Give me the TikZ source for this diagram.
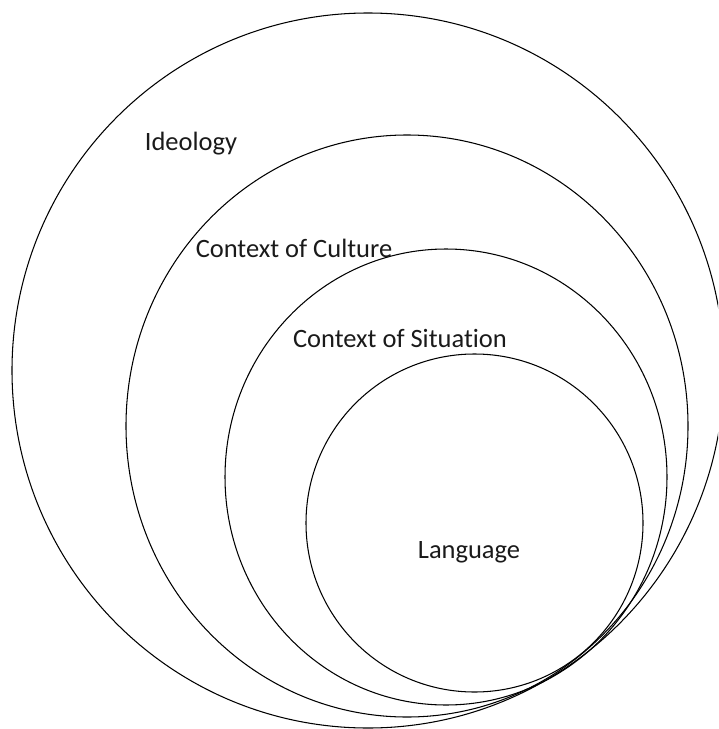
\documentclass[tikz,border=0pt]{standalone}
\usepackage{fontspec}
\setmainfont{Carlito}[Ligatures={NoCommon}]
\usepackage{tikz}
\usepackage{xcolor}

\begin{document}
\begin{tikzpicture}[x=0.03cm,y=-0.03cm,
  ring/.style={draw=black,line width=0.9pt},
  tag/.style={font=\fontsize{22.6}{27}\selectfont,inner sep=0pt}]
\useasboundingbox (0,0) rectangle (718,729);
\clip (0,0) rectangle (718,729);
\definecolor{inkgrey}{HTML}{1A1A1A}
  % nested rings, outermost first
  \foreach \cx/\cy/\rx/\ry in {368/370.5/356/357.5,407/426/281/291,446/477/221/228,474.5/523/168.5/169}
  {  \draw [ring] (\cx,\cy) ellipse [x radius=\rx, y radius=\ry];}
\node [tag,text=inkgrey] (ideology) at (191,144) {Ideology};
\node [tag,text=inkgrey] (culture) at (294,248) {Context of Culture};
\node [tag,text=inkgrey] (situation) at (400,338) {Context of Situation};
\node [tag,text=inkgrey] (language) at (469,552) {Language};
\end{tikzpicture}
\end{document}
